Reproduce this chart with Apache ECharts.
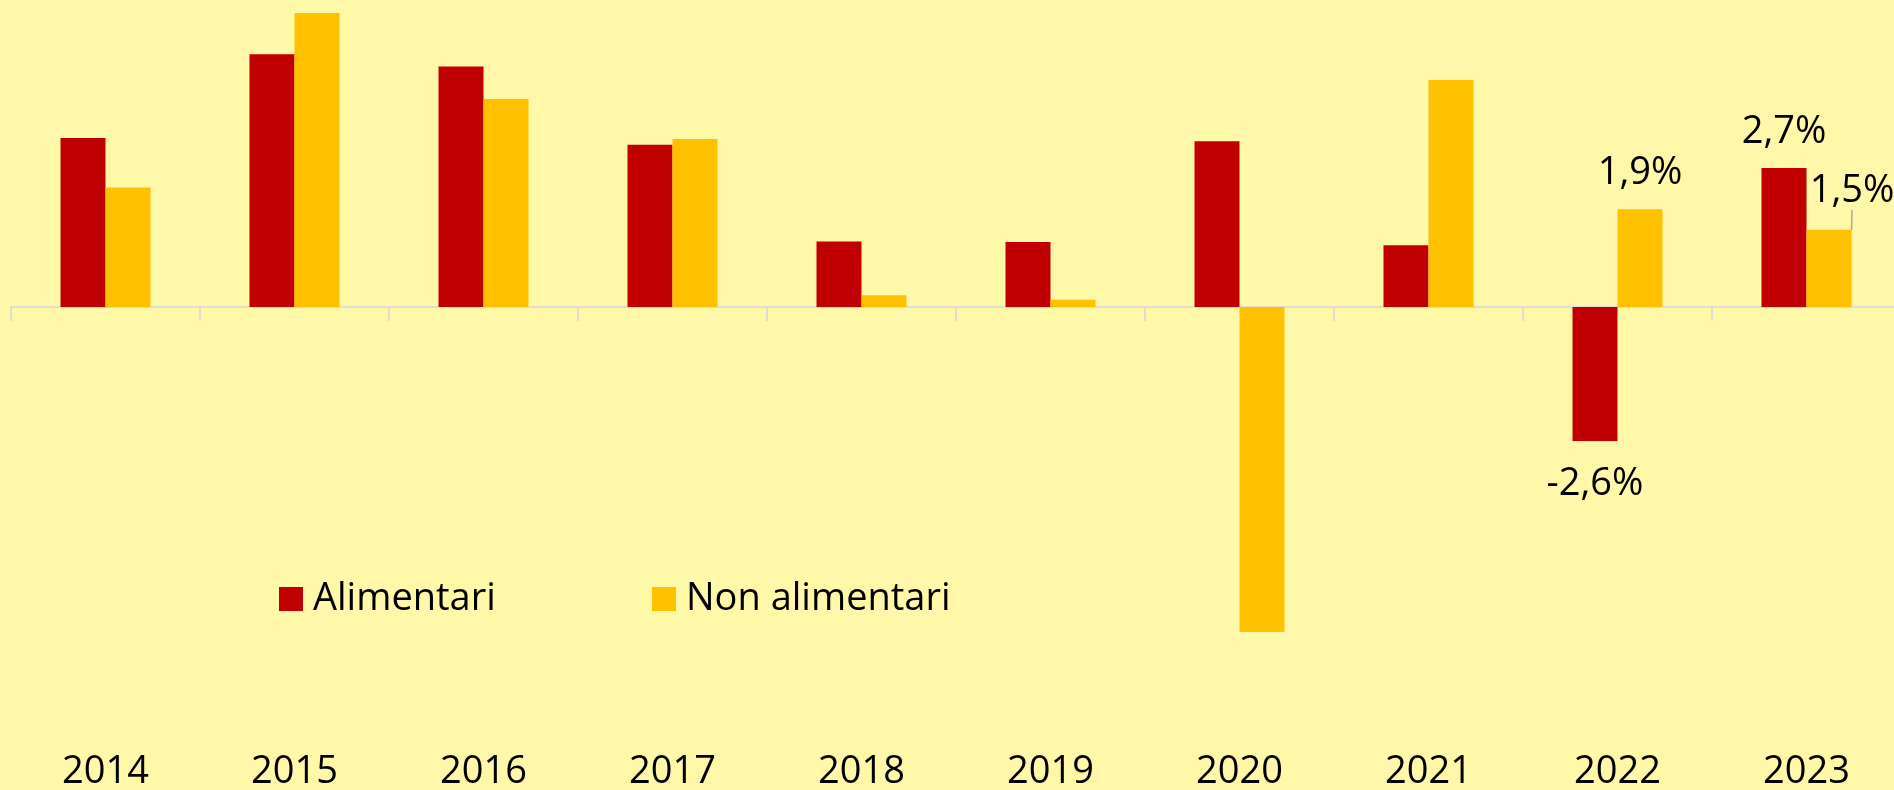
<!DOCTYPE html>
<html>
<head>
<meta charset="utf-8">
<script src="https://cdn.jsdelivr.net/npm/echarts@6/dist/echarts.min.js"></script>
<style>
  html, body { margin: 0; padding: 0; background: #fff8a8; }
  #mycontainer { width: 1894px; height: 790px; }
</style>
</head>
<body>
<div id="mycontainer"></div>
<script>
var anni = ['2014', '2015', '2016', '2017', '2018', '2019', '2020', '2021', '2022', '2023'];
var alimentari = [3.28, 4.91, 4.67, 3.15, 1.27, 1.26, 3.22, 1.2, -2.6, 2.7];
var nonAlimentari = [2.32, 5.71, 4.04, 3.26, 0.23, 0.14, -6.31, 4.41, 1.9, 1.5];
// solo gli ultimi due anni hanno l'etichetta
var conEtichetta = ['2022', '2023'];

var dom = document.getElementById('mycontainer');
var chart = echarts.init(dom, null, { renderer: 'canvas' });

var font = '"Open Sans", "Noto Sans", sans-serif';

function perc(v) {
    return v.toFixed(1).replace('.', ',') + '%';
}

function costruisci(valori, serie) {
    return valori.map(function (v, i) {
        var item = { value: v };
        if (conEtichetta.indexOf(anni[i]) >= 0) {
            item.label = { show: true, position: v < 0 ? 'bottom' : 'top', distance: v < 0 ? 24 : 17 };
        }
        if (serie === 1 && anni[i] === '2023') {
            item.labelLine = { show: true, lineStyle: { color: '#a6a6a6', width: 1.5 } };
        }
        return item;
    });
}

var etichetta = {
    show: false,
    color: '#000',
    fontFamily: font,
    fontSize: 38,
    formatter: function (p) { return perc(p.value); }
};

var option = {
    backgroundColor: '#fff8a8',
    animation: false,
    legend: [
        {
            data: ['Alimentari'],
            left: 279, top: 580, padding: 0,
            itemWidth: 24, itemHeight: 24, icon: 'rect',
            textStyle: { fontFamily: font, fontSize: 38, color: '#000', padding: [0, 0, 0, 5] }
        },
        {
            data: ['Non alimentari'],
            left: 652, top: 580, padding: 0,
            itemWidth: 24, itemHeight: 24, icon: 'rect',
            textStyle: { fontFamily: font, fontSize: 38, color: '#000', padding: [0, 0, 0, 5] }
        }
    ],
    grid: { left: 11, top: -2, width: 1890, height: 746.75, containLabel: false, outerBoundsMode: 'none' },
    xAxis: [
        {
            type: 'category',
            data: anni,
            position: 'bottom',
            axisLine: { onZero: true, lineStyle: { color: '#d6d6dc', width: 1.5 } },
            axisTick: { show: true, length: 14, lineStyle: { color: '#d6d6dc', width: 1.5 } },
            axisLabel: { show: false }
        },
        {
            type: 'category',
            data: anni,
            position: 'bottom',
            axisLine: { show: false, onZero: false },
            axisTick: { show: false },
            axisLabel: { margin: 8, color: '#000', fontFamily: font, fontSize: 38 }
        }
    ],
    yAxis: {
        type: 'value',
        min: -8.5,
        max: 6,
        show: false,
        splitLine: { show: false }
    },
    series: [
        {
            name: 'Alimentari',
            type: 'bar',
            barWidth: 45,
            barGap: '0%',
            itemStyle: { color: '#c00000' },
            label: etichetta,
            data: costruisci(alimentari, 0)
        },
        {
            name: 'Non alimentari',
            type: 'bar',
            barWidth: 45,
            barGap: '0%',
            itemStyle: { color: '#ffc000' },
            label: etichetta,
            labelLine: { show: false },
            labelLayout: function (p) {
                if (p.dataIndex === 9) {
                    return { dx: 23, dy: -3 };
                }
                return {};
            },
            data: costruisci(nonAlimentari, 1)
        }
    ]
};

chart.setOption(option);
</script>
</body>
</html>
